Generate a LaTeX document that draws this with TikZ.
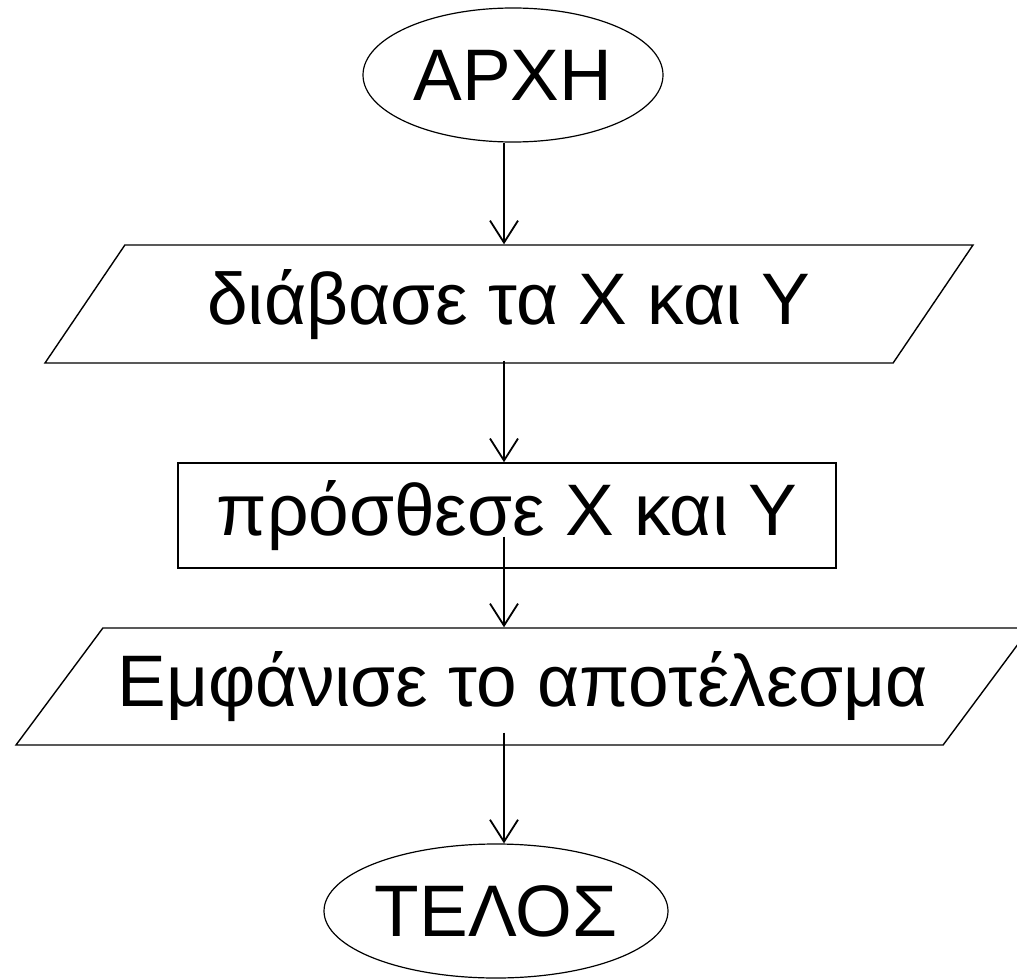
\documentclass[tikz,border=0pt]{standalone}
\usepackage{fontspec}
\setmainfont{Liberation Sans}
\usetikzlibrary{shapes.geometric, arrows.meta, positioning}

\tikzset{
    terminal/.style={ellipse, draw, line width=0.6pt, inner sep=0pt, minimum width=150pt, minimum height=67pt},
    io/.style={trapezium, draw, line width=0.7pt, inner xsep=0pt, text height=28pt, text depth=8pt, trapezium stretches body},
    process/.style={rectangle, draw, line width=0.8pt, inner sep=0pt, minimum width=329pt, minimum height=52.5pt},
    flow/.style={-{Straight Barb[length=11pt, width=14pt]}, line width=0.9pt}
}

\begin{document}
\begin{tikzpicture}[x=0.5pt, y=-0.5pt, font=\fontsize{36.5}{44}\selectfont]
    \useasboundingbox (0,0) rectangle (1017,979);
    \coordinate (axis) at (504,0);

    \node[terminal] (start) at (513,75) {ΑΡΧΗ};
    \node[io, inner ysep=11.5pt, trapezium left angle=55.9, trapezium right angle=124.1, minimum width=464pt] (read) at (509,304) {διάβασε τα X και Y};
    \node[process] (add) at (507,515.5) {πρόσθεσε X και Y};
    \node[io, inner ysep=11.25pt, trapezium left angle=53.4, trapezium right angle=126.6, minimum width=507pt] (show) at (523,686.5) {Εμφάνισε το αποτέλεσμα};
    \node[terminal, minimum width=172pt] (end) at (496,911) {ΤΕΛΟΣ};

    % connectors
    \draw[flow] (start.south -| axis) -- (read.north -| axis);
    \draw[flow] (read.south -| axis) ++(0,-3) -- (add.north -| axis);
    \draw[flow] (add.center -| axis) ++(0,21) -- (show.north -| axis);
    \draw[flow] (show.south -| axis) ++(0,-13) -- (end.north -| axis);
\end{tikzpicture}
\end{document}
